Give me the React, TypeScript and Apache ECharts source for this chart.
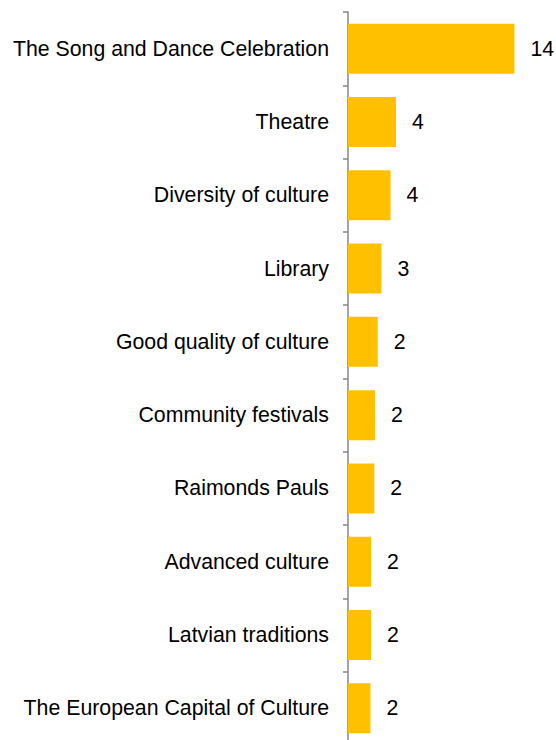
import React, { useEffect, useRef } from "react";
import * as echarts from "echarts";

const categories = [
  "The Song and Dance Celebration",
  "Theatre",
  "Diversity of culture",
  "Library",
  "Good quality of culture",
  "Community festivals",
  "Raimonds Pauls",
  "Advanced culture",
  "Latvian traditions",
  "The European Capital of Culture",
];

const values = [13.7, 3.95, 3.5, 2.75, 2.45, 2.22, 2.17, 1.9, 1.9, 1.85];

export default function App() {
  const ref = useRef<HTMLDivElement>(null);
  useEffect(() => {
    if (!ref.current) return;
    const chart = echarts.init(ref.current, null, { renderer: "svg" });
    chart.setOption({
      animation: false,
      grid: { left: 348, top: 12, width: 194.4, height: 733, containLabel: false },
      xAxis: {
        type: "value",
        min: 0,
        max: 16,
        show: false,
      },
      yAxis: {
        type: "category",
        inverse: true,
        data: categories,
        axisLine: { show: true, lineStyle: { color: "#868686", width: 1.5 } },
        axisTick: { show: true, length: 5, lineStyle: { color: "#868686", width: 1.5 } },
        axisLabel: {
          margin: 19,
          color: "#000",
          fontSize: 21.3,
          fontFamily: "Liberation Sans, Arial, sans-serif",
        },
      },
      series: [
        {
          type: "bar",
          data: values,
          barWidth: 50,
          itemStyle: { color: "#FFC000" },
          label: {
            show: true,
            position: "right",
            distance: 16,
            color: "#000",
            fontSize: 21.3,
            fontFamily: "Liberation Sans, Arial, sans-serif",
            formatter: (p: any) => String(Math.round(p.value)),
          },
        },
      ],
    });
    return () => chart.dispose();
  }, []);
  return (
    <div
      ref={ref}
      style={{ position: "fixed", left: 0, top: 0, width: 556, height: 760, background: "#fff" }}
    />
  );
}
